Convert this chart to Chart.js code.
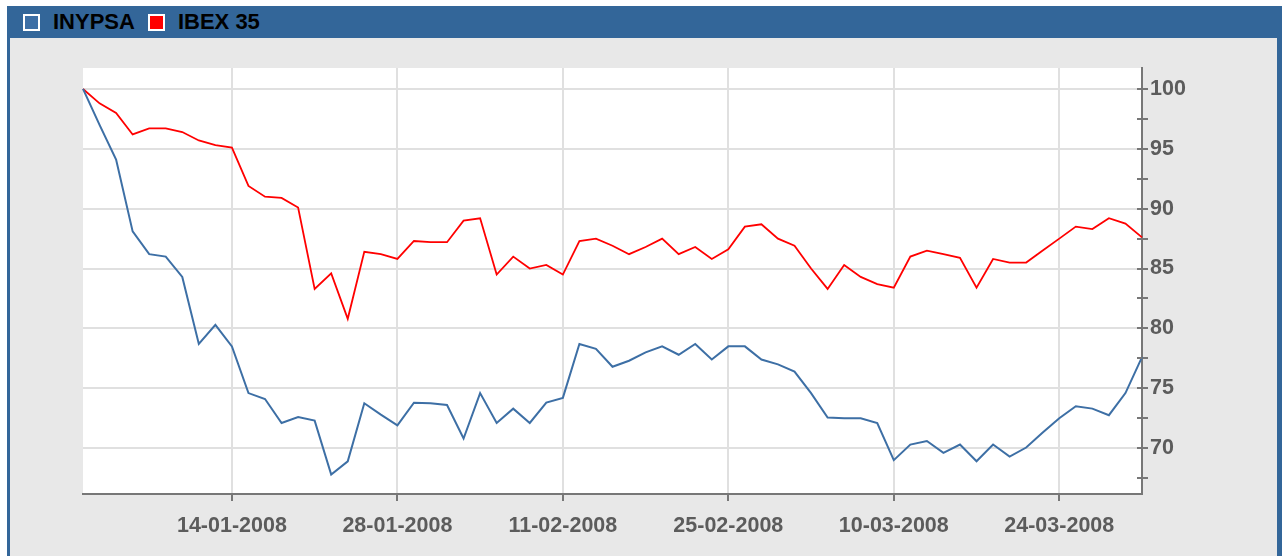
<!DOCTYPE html>
<html>
<head>
    <title>INYPSA vs IBEX 35</title>
    <script src="https://cdn.jsdelivr.net/npm/chart.js"></script>
    <style>
        body { margin: 0; background: #fff; font-family: "Liberation Sans", Arial, sans-serif; }
        #frame { position: absolute; left: 7px; top: 6px; width: 1275px; height: 550px; background: #336699; }
        #head { height: 32px; display: flex; align-items: center; padding-left: 16px; }
        .item { display: flex; align-items: center; margin-right: 13px; font-weight: bold; font-size: 22px; color: #000; }
        .box { width: 13px; height: 13px; border: 2px solid #fff; margin-right: 13px; }
        #body { position: absolute; left: 3px; top: 32px; width: 1267px; height: 518px; background: #e8e8e8; }
    </style>
</head>
<body>
<div id="frame">
    <div id="head"></div>
    <div id="body"><canvas id="myChart" width="1267" height="518"></canvas></div>
</div>
<script>
    // dias de cotizacion (31-12-2007 .. 31-03-2008)
    const dates = [
        '31-12-2007',
        '02-01-2008', '03-01-2008', '04-01-2008', '07-01-2008', '08-01-2008', '09-01-2008', '10-01-2008', '11-01-2008',
        '14-01-2008', '15-01-2008', '16-01-2008', '17-01-2008', '18-01-2008', '21-01-2008', '22-01-2008', '23-01-2008',
        '24-01-2008', '25-01-2008', '28-01-2008', '29-01-2008', '30-01-2008', '31-01-2008',
        '01-02-2008', '04-02-2008', '05-02-2008', '06-02-2008', '07-02-2008', '08-02-2008', '11-02-2008', '12-02-2008',
        '13-02-2008', '14-02-2008', '15-02-2008', '18-02-2008', '19-02-2008', '20-02-2008', '21-02-2008', '22-02-2008',
        '25-02-2008', '26-02-2008', '27-02-2008', '28-02-2008', '29-02-2008',
        '03-03-2008', '04-03-2008', '05-03-2008', '06-03-2008', '07-03-2008', '10-03-2008', '11-03-2008', '12-03-2008',
        '13-03-2008', '14-03-2008', '17-03-2008', '18-03-2008', '19-03-2008', '20-03-2008', '21-03-2008', '24-03-2008',
        '25-03-2008', '26-03-2008', '27-03-2008', '28-03-2008', '31-03-2008'
    ];
    const shownDates = ['14-01-2008', '28-01-2008', '11-02-2008', '25-02-2008', '10-03-2008', '24-03-2008'];
    const yTicks = [67.5, 70, 72.5, 75, 77.5, 80, 82.5, 85, 87.5, 90, 92.5, 95, 97.5, 100];

    const inypsa = [
        100, 97.0, 94.1, 88.1, 86.2, 86.0, 84.3, 78.7, 80.3, 78.5,
        74.6, 74.1, 72.1, 72.6, 72.3, 67.8, 68.9, 73.75, 72.8, 71.9,
        73.8, 73.75, 73.6, 70.8, 74.6, 72.1, 73.3, 72.1, 73.8, 74.2,
        78.7, 78.3, 76.8, 77.3, 78.0, 78.5, 77.8, 78.7, 77.4, 78.5,
        78.5, 77.4, 77.0, 76.4, 74.6, 72.55, 72.5, 72.5, 72.1, 69.0,
        70.3, 70.6, 69.6, 70.3, 68.9, 70.3, 69.3, 70.05, 71.3, 72.5,
        73.5, 73.3, 72.75, 74.6, 77.6
    ];
    const ibex35 = [
        100, 98.8, 98.0, 96.2, 96.7, 96.7, 96.4, 95.7, 95.3, 95.1,
        91.9, 91.0, 90.9, 90.1, 83.3, 84.6, 80.8, 86.4, 86.2, 85.8,
        87.3, 87.2, 87.2, 89.0, 89.2, 84.5, 86.0, 85.0, 85.3, 84.5,
        87.3, 87.5, 86.9, 86.2, 86.8, 87.5, 86.2, 86.8, 85.8, 86.6,
        88.5, 88.7, 87.5, 86.9, 85.0, 83.3, 85.3, 84.3, 83.7, 83.4,
        86.0, 86.5, 86.2, 85.9, 83.4, 85.8, 85.5, 85.5, 86.5, 87.5,
        88.5, 88.3, 89.2, 88.75, 87.6
    ];

    const blue = '#3d6fa5';
    const red = '#ff0000';
    const tickFont = { family: '"Liberation Sans", Arial, sans-serif', size: 21.5, weight: 'bold' };

    // leyenda en la cabecera
    const head = document.getElementById('head');
    [['INYPSA', blue], ['IBEX 35', red]].forEach(function (s) {
        const it = document.createElement('div');
        it.className = 'item';
        it.innerHTML = '<span class="box" style="background:' + s[1] + '"></span>' + s[0];
        head.appendChild(it);
    });

    // fondo blanco del area de dibujo + marcas del eje derecho hacia dentro
    const plotBg = {
        id: 'plotBg',
        beforeDraw(chart) {
            const a = chart.chartArea;
            chart.ctx.save();
            chart.ctx.fillStyle = '#fff';
            chart.ctx.fillRect(a.left, a.top, a.right - a.left, a.bottom - a.top);
            chart.ctx.restore();
        },
        afterDraw(chart) {
            const a = chart.chartArea, y = chart.scales.y, ctx = chart.ctx;
            ctx.save();
            ctx.strokeStyle = '#777';
            ctx.lineWidth = 2;
            y.ticks.forEach(t => {
                const py = Math.round(y.getPixelForValue(t.value));
                ctx.beginPath();
                ctx.moveTo(a.right - 5, py);
                ctx.lineTo(a.right, py);
                ctx.stroke();
            });
            ctx.restore();
        }
    };

    const myChart = new Chart(document.getElementById('myChart'), {
        type: 'line',
        data: {
            labels: dates,
            datasets: [
                { label: 'INYPSA', data: inypsa, borderColor: blue, borderWidth: 2, pointRadius: 0, tension: 0, fill: false },
                { label: 'IBEX 35', data: ibex35, borderColor: red, borderWidth: 1.8, pointRadius: 0, tension: 0, fill: false }
            ]
        },
        options: {
            responsive: false,
            animation: false,
            layout: { padding: { left: 73, top: 30, right: 0, bottom: 0 } },
            plugins: { legend: { display: false }, tooltip: { enabled: false } },
            scales: {
                x: {
                    type: 'category',
                    offset: false,
                    afterFit(s) { s.height = 62; },
                    grid: {
                        color: ctx => shownDates.includes(dates[ctx.index]) ? '#e0e0e0' : 'transparent',
                        tickColor: ctx => shownDates.includes(dates[ctx.index]) ? '#777' : 'transparent',
                        lineWidth: 2,
                        tickLength: 7
                    },
                    border: { color: '#777', width: 2 },
                    ticks: {
                        autoSkip: false,
                        maxRotation: 0,
                        padding: 12,
                        color: '#5c5c5c',
                        font: tickFont,
                        callback: function (v, i) { return shownDates.includes(dates[i]) ? dates[i] : ''; }
                    }
                },
                y: {
                    position: 'right',
                    min: 66.17,
                    max: 101.75,
                    afterBuildTicks(s) { s.ticks = yTicks.map(v => ({ value: v })); },
                    afterFit(s) { s.width = 135; },
                    grid: {
                        color: ctx => (ctx.tick && ctx.tick.value % 5 === 0) ? '#e0e0e0' : 'transparent',
                        tickColor: '#777',
                        lineWidth: 2,
                        tickLength: 6
                    },
                    border: { color: '#777', width: 2 },
                    ticks: {
                        padding: 2,
                        color: '#5c5c5c',
                        font: tickFont,
                        callback: v => v % 5 === 0 ? v : ''
                    }
                }
            }
        },
        plugins: [plotBg]
    });
</script>
</body>
</html>
